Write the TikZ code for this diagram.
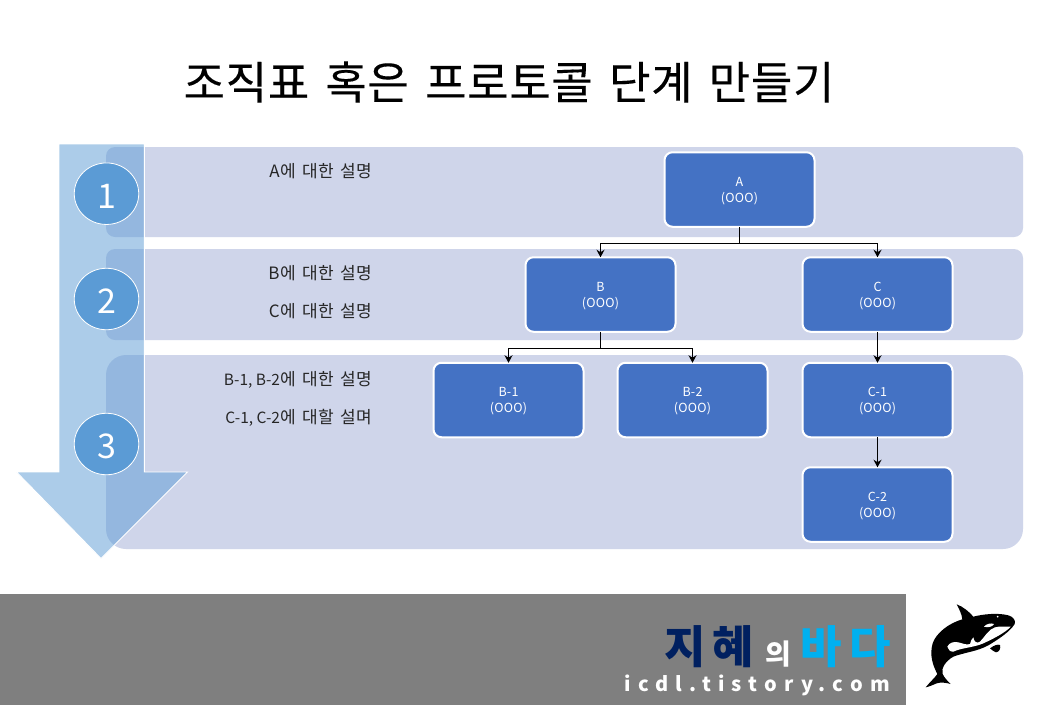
\documentclass[tikz,border=0pt]{standalone}
\usepackage{fontspec}
\setmainfont{Noto Sans CJK KR}
\newfontfamily\titlefont[LetterSpace=1.6,WordSpace=1.5,FakeBold=.2]{Noto Sans CJK KR}
\newfontfamily\descfont[LetterSpace=2.5,WordSpace=1.5]{Noto Sans CJK KR}
\newfontfamily\boxfont[LetterSpace=1.5]{Noto Sans CJK KR}
\newfontfamily\urlfont[LetterSpace=36]{Noto Sans CJK KR}
\newcommand{\tightlat}[1]{{\setmainfont{Noto Sans CJK KR}\normalfont\fontsize{15.5}{18}\selectfont #1}}
\newcommand{\boxtext}[1]{\rule{0pt}{12pt}#1\\(OOO)}
\usetikzlibrary{arrows.meta,shapes.geometric}
\definecolor{bandc}{HTML}{CFD5EA}
\definecolor{boxc}{HTML}{4472C4}
\definecolor{flow}{HTML}{5B9BD5}
\definecolor{footc}{HTML}{7F7F7F}
\definecolor{navy}{HTML}{002060}
\definecolor{sky}{HTML}{00B0F0}
\tikzset{
  x=1pt,y=-1pt,
  band/.style={fill=bandc,minimum width=917pt,outer sep=0pt,inner sep=0pt},
  orgbox/.style={fill=boxc,draw=white,line width=2pt,rounded corners=8pt,minimum width=150pt,minimum height=74.5pt,outer sep=0pt,inner sep=0pt,text=white,font=\boxfont\fontsize{12.5}{16}\selectfont,align=center},
  stepnum/.style={ellipse,fill=flow,draw=white,line width=.8pt,minimum width=64.5pt,minimum height=61.5pt,inner sep=0pt,outer sep=0pt,text=white,font=\fontsize{34}{36}\selectfont},
  desc/.style={anchor=east,inner sep=0pt,text=black!85,font=\descfont\fontsize{17}{18}\selectfont},
  link/.style={draw=black,line width=.9pt,-{Stealth[length=7.5pt,width=8pt]}},
  trunk/.style={draw=black,line width=.9pt},
}
\begin{document}
\begin{tikzpicture}
\useasboundingbox (0,0) rectangle (1040,720);
\fill[white] (0,0) rectangle (1040,720);
\node[font=\titlefont\fontsize{45}{50}\selectfont,text=black,inner sep=0pt] (title) at (509,82) {조직표 혹은 프로토콜 단계 만들기};
% bands
\node[band,rounded corners=9pt,minimum height=90pt] (b1) at (564.5,192) {};
\node[band,rounded corners=9pt,minimum height=91pt] (b2) at (564.5,294.5) {};
\node[band,rounded corners=20pt,minimum height=194pt] (b3) at (564.5,452) {};
% flow arrow
\path[fill=flow,fill opacity=.5,draw=white,line width=.9pt]
  (59,144) -- (144.3,144) -- (144.3,472) -- (187.5,472) -- (101,558.5) -- (16.5,472) -- (59,472) -- cycle;
\node[stepnum] (n1) at (106.5,193.7) {\rule{0pt}{29pt}1};
\node[stepnum] (n2) at (106.5,299) {\rule{0pt}{29pt}2};
\node[stepnum] (n3) at (106.5,444) {\rule{0pt}{29pt}3};
% descriptions
\node[desc] (d1) at (372,171.5) {A에 대한 설명};
\node[desc] (d2) at (372,273.5) {B에 대한 설명};
\node[desc] (d3) at (372,311.5) {C에 대한 설명};
\node[desc] (d4) at (372,380) {\tightlat{B-1, B-2}에 대한 설명};
\node[desc] (d5) at (372,418) {\tightlat{C-1, C-2}에 대할 설며};
% org boxes
\node[orgbox] (A) at (739.5,189.5) {\boxtext{A}};
\node[orgbox] (B) at (600.5,294.5) {\boxtext{B}};
\node[orgbox] (C) at (877.5,294.5) {\boxtext{C}};
\node[orgbox] (B1) at (508.5,400) {\boxtext{B-1}};
\node[orgbox] (B2) at (692.5,400) {\boxtext{B-2}};
\node[orgbox] (C1) at (877.5,400) {\boxtext{C-1}};
\node[orgbox] (C2) at (877.5,504.5) {\boxtext{C-2}};
% connectors
\coordinate (ja) at (739.5,243);
\coordinate (jb) at (600.5,348);
\draw[trunk] (A.south) -- (ja);
\draw[link] (ja) -| (B.north);
\draw[link] (ja) -| (C.north);
\draw[trunk] (B.south) -- (jb);
\draw[link] (jb) -| (B1.north);
\draw[link] (jb) -| (B2.north);
\draw[link] (C.south) -- (C1.north);
\draw[link] (C1.south) -- (C2.north);
% footer
\fill[footc] (0,594) rectangle (906,705);
\node[inner sep=0pt,font=\bfseries\fontsize{45}{48}\selectfont,text=navy] (w1) at (709.5,647) {지\hspace{7pt}혜};
\node[inner sep=0pt,font=\bfseries\fontsize{28}{30}\selectfont,text=white] (w2) at (778,654) {의};
\node[inner sep=0pt,font=\bfseries\fontsize{45}{48}\selectfont,text=sky] (w3) at (846,647) {바\hspace{8pt}다};
\node[inner sep=0pt,anchor=east,font=\urlfont\bfseries\fontsize{20}{22}\selectfont,text=white] (url) at (890,685) {icdl.tistory.com};
% orca
\begin{scope}[shift={(920,600)},x=.3333pt,y=-.3333pt]
\fill[black] (17,262) .. controls (28,248) and (42,236) .. (52,222)
  .. controls (38,195) and (28,165) .. (38,130)
  .. controls (48,100) and (85,70) .. (127,58)
  .. controls (125,40) and (116,25) .. (110,13)
  .. controls (130,20) and (148,36) .. (160,50)
  .. controls (190,42) and (235,38) .. (265,46)
  .. controls (280,50) and (288,62) .. (284,72)
  .. controls (270,95) and (235,118) .. (205,136)
  .. controls (170,155) and (130,158) .. (100,170)
  .. controls (78,182) and (62,205) .. (68,222)
  .. controls (74,235) and (84,244) .. (92,252)
  .. controls (78,248) and (62,246) .. (50,250)
  .. controls (40,254) and (28,260) .. (17,262) -- cycle;
\fill[black] (210,145) .. controls (222,136) and (232,132) .. (240,135)
  .. controls (243,145) and (238,156) .. (228,157)
  .. controls (222,155) and (216,150) .. (210,145) -- cycle;
\fill[white] (82,140) .. controls (88,128) and (100,124) .. (115,127)
  .. controls (128,130) and (140,136) .. (150,132)
  .. controls (155,125) and (152,115) .. (160,112)
  .. controls (162,125) and (170,132) .. (180,125)
  .. controls (195,110) and (205,88) .. (225,82)
  .. controls (240,78) and (258,80) .. (272,80)
  .. controls (258,96) and (225,114) .. (190,130)
  .. controls (160,143) and (125,143) .. (100,155)
  .. controls (90,156) and (84,148) .. (82,140) -- cycle;
\fill[white] (192,80) .. controls (198,72) and (212,68) .. (222,72)
  .. controls (218,80) and (204,84) .. (192,80) -- cycle;
\fill[white] (233,50) circle[radius=3];
\end{scope}
\end{tikzpicture}
\end{document}
